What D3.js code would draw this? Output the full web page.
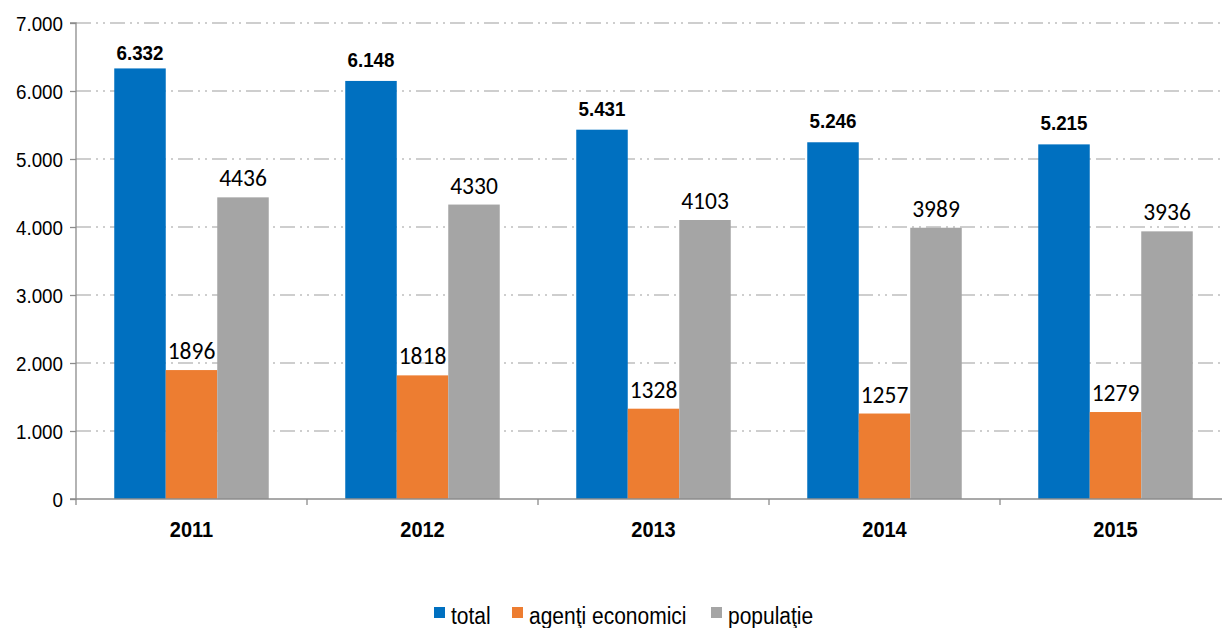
<!DOCTYPE html>
<html><head><meta charset="utf-8">
<script src="https://cdn.jsdelivr.net/npm/d3@7"></script>
<style>body{margin:0;background:#fff}</style>
</head><body>
<svg id="c" width="1222" height="628"></svg>
<script>
const years = ["2011","2012","2013","2014","2015"];
const total = [6332, 6148, 5431, 5246, 5215];
const agenti = [1896, 1818, 1328, 1257, 1279];
const populatie = [4436, 4330, 4103, 3989, 3936];
const yTicks = [0,1000,2000,3000,4000,5000,6000,7000];
const seriesNames = ["total","agenţi economici","populaţie"];
const colors = ["#0070C0","#ED7D31","#A5A5A5"];

(function(){
const svg = d3.select("#c");
const pL = 76, pR = 1231, pT = 23, pB = 499;
const SY = 1.1;
const ARIAL = "'Liberation Sans', Arial, sans-serif";
const x = d3.scaleBand().domain(years).range([pL, pR]).paddingInner(0).paddingOuter(0);
const y = d3.scaleLinear().domain([0,7000]).range([pB, pT]);
const barW = 51.5;
const sub = d3.scaleBand().domain([0,1,2]).range([0, barW*3]);
const offset = (x.bandwidth() - barW*3)/2;
const place = (sel, fx, fy, sy) => sel.attr("transform", (d,i) => `translate(${fx(d,i)},${fy(d,i)}) scale(1,${sy||SY})`);

svg.append("g").selectAll("line").data(yTicks.slice(1)).join("line")
  .attr("x1", pL).attr("x2", 1222).attr("y1", d=>y(d)).attr("y2", d=>y(d))
  .attr("stroke","#BFBFBF").attr("stroke-width",1.3)
  .attr("stroke-dasharray","15,5,2,5,2,5");

const data = [total, agenti, populatie];
const fmtDot = d => d3.format(",")(d).replace(/,/g,".");

data.forEach((arr, si) => {
  const g = svg.append("g");
  g.selectAll("rect").data(arr).join("rect")
    .attr("x", (d,i) => x(years[i]) + offset + sub(si))
    .attr("width", sub.bandwidth())
    .attr("y", d => y(d)).attr("height", d => pB - y(d))
    .attr("fill", colors[si]);
  const t = g.selectAll("text").data(arr).join("text")
    .attr("text-anchor","middle")
    .attr("font-family", si===0 ? ARIAL : "Carlito, Calibri, Lato, sans-serif")
    .attr("font-weight", si===0 ? "bold" : "normal")
    .attr("font-size", si===0 ? 18.8 : 23.5)
    .attr("fill","#000")
    .text(d => si===0 ? fmtDot(d) : d);
  place(t, (d,i) => x(years[i]) + offset + sub(si) + sub.bandwidth()/2,
           d => si===0 ? Math.max(y(d) - 14, 60) : y(d) - 11, si===0 ? SY : 1.06);
});

const yAxis = d3.axisLeft(y).tickValues(yTicks).tickSize(6).tickFormat(d => d===0 ? "0" : fmtDot(d));
const gy = svg.append("g").attr("transform",`translate(${pL},0)`).call(yAxis);
gy.select(".domain").attr("stroke","#8C8C8C").attr("stroke-width",1.3).attr("d",`M-6,${pT}H0V${pB}H-6`);
gy.selectAll(".tick line").attr("stroke","#8C8C8C").attr("stroke-width",1.3);
const tt = gy.selectAll(".tick text").attr("font-family",ARIAL).attr("font-size",18.8).attr("fill","#000")
  .attr("x",null).attr("dy",null);
tt.attr("transform", `translate(-13,7) scale(1,${SY})`);

svg.append("line").attr("x1",pL).attr("x2",1222).attr("y1",pB).attr("y2",pB)
  .attr("stroke","#8C8C8C").attr("stroke-width",1.3);
const bounds = years.map(yr => x(yr)).concat([x(years[4])+x.bandwidth()]);
svg.append("g").selectAll("line").data(bounds).join("line")
  .attr("x1",d=>d).attr("x2",d=>d).attr("y1",pB).attr("y2",pB+6)
  .attr("stroke","#8C8C8C").attr("stroke-width",1.3);
const xl = svg.append("g").selectAll("text").data(years).join("text")
  .attr("text-anchor","middle").attr("font-family",ARIAL)
  .attr("font-weight","bold").attr("font-size",20).text(d=>d);
place(xl, d => x(d)+x.bandwidth()/2, () => 537);

const legX = [434, 512, 711];
const lg = svg.append("g");
seriesNames.forEach((n,i) => {
  lg.append("rect").attr("x", legX[i]).attr("y", 607).attr("width",11).attr("height",11).attr("fill",colors[i]);
  lg.append("text").attr("transform", `translate(${legX[i]+17},624) scale(1,${SY})`)
    .attr("font-family",ARIAL).attr("font-size",21).attr("fill","#000").text(n);
});
})();
</script>
</body></html>
